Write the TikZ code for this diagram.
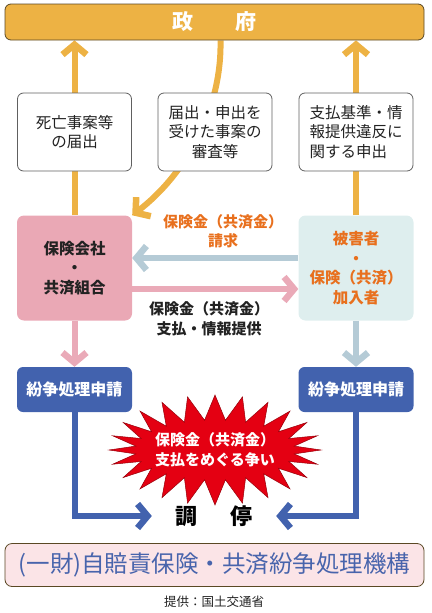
\documentclass[tikz,border=0pt]{standalone}
\usepackage{fontspec}
\setmainfont{Noto Sans CJK JP}
\usetikzlibrary{arrows.meta,backgrounds,calc}
\definecolor{gold}{RGB}{237,178,68}
\definecolor{golddark}{RGB}{90,72,36}
\definecolor{pinkbox}{RGB}{234,168,181}
\definecolor{pinkarrow}{RGB}{234,170,184}
\definecolor{lightcyan}{RGB}{222,238,238}
\definecolor{grayblue}{RGB}{181,203,214}
\definecolor{darkblue}{RGB}{66,98,174}
\definecolor{orangetext}{RGB}{232,112,30}
\definecolor{burstred}{RGB}{228,0,18}
\definecolor{burstdark}{RGB}{150,0,10}
\definecolor{orgfill}{RGB}{251,228,231}
\definecolor{orgblue}{RGB}{72,100,172}
\definecolor{textdark}{RGB}{34,34,34}
\tikzset{
  tipchev/.tip={Straight Barb[length=10pt,width=24pt,line width=6.5pt]},
  flow/.style={line width=6pt,-tipchev},
  infobox/.style={draw=gray!75!black,line width=0.8pt,rounded corners=6pt,fill=white,
    minimum width=114pt,minimum height=78pt,inner sep=0pt,text=textdark,
    font=\fontsize{15.5}{19.5}\selectfont},
  partybox/.style={rounded corners=7pt,minimum width=115pt,minimum height=105pt,
    inner sep=0pt,align=center,font=\fontsize{15.5}{19.5}\selectfont\bfseries},
  applybox/.style={fill=darkblue,rounded corners=6pt,minimum width=115pt,minimum height=45pt,
    inner sep=0pt,text=white,font=\fontsize{16}{19}\selectfont\bfseries},
  wideband/.style={draw=golddark,line width=0.8pt,minimum width=419pt,inner sep=0pt},
  flowlabel/.style={align=center,font=\fontsize{15}{19.5}\selectfont\bfseries},
}
\begin{document}
\begin{tikzpicture}[x=1pt,y=-1pt]
\useasboundingbox (0,0) rectangle (431,613);
% top bar
\node[wideband,fill=gold,rounded corners=6pt,minimum height=36pt,text=white,
  font=\fontsize{21}{24}\selectfont\bfseries] (gov) at (214.5,22) {政\hspace{2em}府};
% info boxes
\node[infobox,align=center] (b1) at (74.5,132) {死亡事案等\\の届出};
\node[infobox,align=center] (b2) at (215,132) {届出・申出を\\受けた事案の\\審査等};
\node[infobox,align=left] (b3) at (356,132) {支払基準・情\\報提供違反に\\関する申出};
% parties
\node[partybox,fill=pinkbox,text=textdark] (ins) at (74.5,268) {保険会社\\・\\共済組合};
\node[partybox,fill=lightcyan,text=orangetext] (vic) at (356,268) {被害者\\・\\保険（共済）\\加入者};
% applications
\node[applybox] (lb1) at (74.5,389.5) {紛争処理申請};
\node[applybox] (lb2) at (356,389.5) {紛争処理申請};
% mediation
\node[minimum width=124pt,inner sep=0pt,text=black,font=\fontsize{22}{24}\selectfont\bfseries]
  (med) at (214,516) {調\hspace{1.5em}停};
% burst
\coordinate (burstc) at (215,450);
\begin{scope}[shift={(burstc)}]
  \draw[fill=burstred,draw=burstdark,line width=0.5pt,line join=miter]
    (0:106 and 55) \foreach \i in {0,...,23}{
      -- (\i*15+7.5:80 and 30) -- (\i*15+15:106 and 55) } -- cycle;
\end{scope}
\node[align=center,text=white,font=\fontsize{15}{20}\selectfont\bfseries] (dispute) at (burstc)
  {保険金（共済金）\\支払をめぐる争い};
% labels
\node[flowlabel,text=orangetext] (claim) at (223,231) {保険金（共済金）\\請求};
\node[flowlabel,text=textdark] (pay) at (209,319) {保険金（共済金）\\支払・情報提供};
% organisation
\node[wideband,fill=orgfill,rounded corners=7pt,minimum height=43pt,text=orgblue,
  font=\fontsize{23.5}{26}\selectfont] (org) at (214.5,565) {(一財)自賠責保険・共済紛争処理機構};
\node[text=textdark,inner sep=0pt,font=\fontsize{12.5}{14}\selectfont] (src) at (214,602) {提供：国土交通省};
% connectors
\begin{scope}[on background layer]
  \draw[flow,gold] (ins.north) -- (ins.north |- gov.south);
  \draw[flow,gold] (vic.north) -- (vic.north |- gov.south);
  \draw[flow,gold] ($(gov.south)+(6,0)$) .. controls (222,110) and (185,175) .. (ins.north east);
  \draw[flow,grayblue] ($(vic.west)+(0,-10)$) -- ($(ins.east)+(0,-10)$);
  \draw[flow,pinkarrow] ($(ins.east)+(0,21)$) -- ($(vic.west)+(0,21)$);
  \draw[flow,pinkarrow] (ins.south) -- (lb1.north);
  \draw[flow,grayblue] (vic.south) -- (lb2.north);
  \draw[flow,darkblue] (lb1.south) |- (med.west);
  \draw[flow,darkblue] (lb2.south) |- (med.east);
\end{scope}
\end{tikzpicture}
\end{document}
